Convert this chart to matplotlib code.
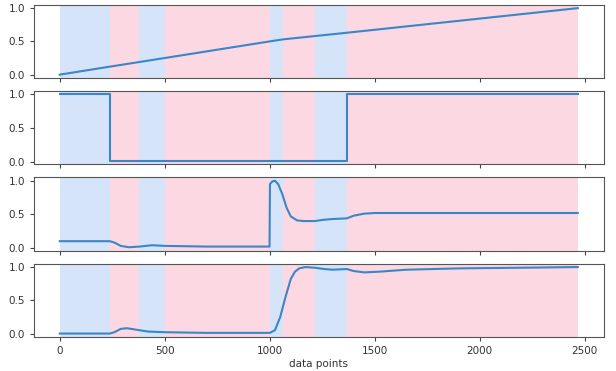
import matplotlib
matplotlib.use("Agg")
import matplotlib.pyplot as plt

# phase boundaries (data points) and phase type
span_edges = [0, 238, 376, 500, 1000, 1062, 1214, 1367, 2467]
span_kind = ["b", "p", "b", "p", "b", "p", "b", "p"]

# panel 1: slowly rising ramp
x1 = [0, 238, 500, 1000, 1062, 1214, 1367, 2467]
y1 = [0.0, 0.12, 0.25, 0.50, 0.53, 0.58, 0.63, 1.0]

# panel 2: on/off step signal
x2 = [0, 238, 238, 1367, 1367, 2467]
y2 = [1.0, 1.0, 0.01, 0.01, 1.0, 1.0]

# panel 3
x3 = [0, 238, 260, 290, 330, 380, 440, 500, 700, 999, 1001, 1012, 1025, 1040,
      1060, 1080, 1100, 1130, 1160, 1214, 1260, 1300, 1367, 1400, 1450, 1500, 1700, 2467]
y3 = [0.10, 0.10, 0.08, 0.03, 0.01, 0.02, 0.04, 0.03, 0.02, 0.02, 0.95, 0.99, 1.0, 0.95,
      0.80, 0.60, 0.47, 0.41, 0.40, 0.40, 0.42, 0.43, 0.44, 0.48, 0.51, 0.52, 0.52, 0.52]

# panel 4
x4 = [0, 238, 260, 290, 320, 360, 420, 500, 700, 1000, 1025, 1050, 1075, 1100, 1120,
      1140, 1170, 1214, 1260, 1300, 1367, 1400, 1450, 1520, 1650, 1900, 2200, 2467]
y4 = [0.0, 0.0, 0.02, 0.07, 0.08, 0.06, 0.03, 0.02, 0.01, 0.01, 0.05, 0.25, 0.55, 0.82, 0.93,
      0.98, 1.0, 0.99, 0.97, 0.96, 0.97, 0.94, 0.92, 0.93, 0.96, 0.98, 0.99, 1.0]

series = [(x1, y1), (x2, y2), (x3, y3), (x4, y4)]
colors = {"b": "#d6e4f9", "p": "#fcd8e2"}

fig, axes = plt.subplots(4, 1, figsize=(6.16, 3.71), dpi=100, sharex=True)
fig.subplots_adjust(left=0.055, right=0.98, top=0.987, bottom=0.092, hspace=0.18)

for ax, (xs, ys) in zip(axes, series):
    for i, k in enumerate(span_kind):
        ax.axvspan(span_edges[i], span_edges[i + 1], color=colors[k], lw=0)
    ax.plot(xs, ys, color="#3b86c6", lw=1.5)
    ax.set_yticks([0.0, 0.5, 1.0])
    ax.tick_params(labelsize=7.5, length=3, color="#444444", labelcolor="#333333")
    for s in ax.spines.values():
        s.set_color("#555555")

axes[-1].set_xticks([0, 500, 1000, 1500, 2000, 2500])
axes[-1].set_xlabel("data points", fontsize=7.5, color="#333333", labelpad=2)

plt.savefig("out.png", dpi=100)
